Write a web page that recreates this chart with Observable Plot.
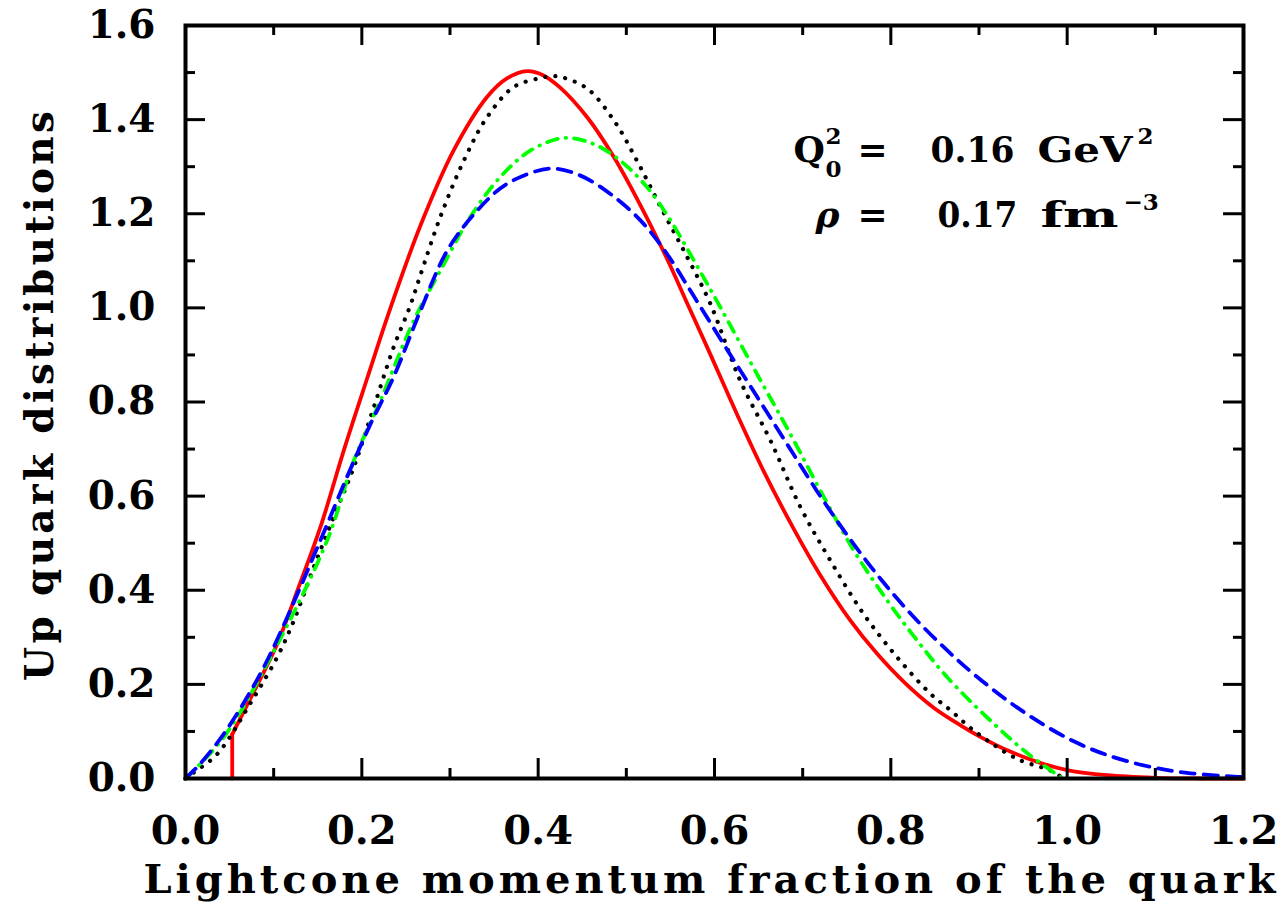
<!DOCTYPE html>
<html>
<head>
<meta charset="utf-8">
<script src="https://cdn.jsdelivr.net/npm/d3@7"></script>
<script src="https://cdn.jsdelivr.net/npm/@observablehq/plot@0.6"></script>
<style>
  html, body { margin: 0; padding: 0; background: #fff; }
  #chart { width: 1286px; height: 905px; }
</style>
</head>
<body>
<div id="chart"></div>
<script>
// ---- data ----
const redX = [0.053, 0.053, 0.075, 0.104, 0.128, 0.153, 0.180, 0.206, 0.2325, 0.2665, 0.304, 0.342, 0.365, 0.3875, 0.405, 0.425, 0.4556, 0.486, 0.516, 0.546, 0.569, 0.592, 0.626, 0.656, 0.690, 0.720, 0.754, 0.7845, 0.815, 0.849, 0.880, 0.902, 0.932, 0.970, 1.0, 1.045, 1.10, 1.15, 1.2];
const redY = [0, 0.094, 0.175, 0.286, 0.405, 0.534, 0.700, 0.850, 1.000, 1.175, 1.334, 1.448, 1.488, 1.503, 1.495, 1.468, 1.405, 1.320, 1.218, 1.105, 1.010, 0.915, 0.772, 0.652, 0.530, 0.432, 0.336, 0.265, 0.205, 0.150, 0.112, 0.088, 0.060, 0.033, 0.018, 0.007, 0.0015, 0, 0];

const blackX = [0, 0.0095, 0.036, 0.0756, 0.104, 0.123, 0.1455, 0.168, 0.191, 0.2136, 0.236, 0.255, 0.2665, 0.289, 0.3157, 0.342, 0.372, 0.399, 0.415, 0.425, 0.4556, 0.486, 0.512, 0.539, 0.569, 0.595, 0.629, 0.6635, 0.6975, 0.7315, 0.769, 0.807, 0.845, 0.868, 0.894, 0.943, 0.981, 0.996];
const blackY = [0, 0.013, 0.052, 0.166, 0.258, 0.336, 0.449, 0.555, 0.662, 0.789, 0.916, 1.005, 1.07, 1.193, 1.313, 1.405, 1.469, 1.487, 1.492, 1.491, 1.466, 1.398, 1.313, 1.214, 1.108, 1.010, 0.846, 0.718, 0.5765, 0.463, 0.350, 0.258, 0.180, 0.1445, 0.102, 0.042, 0.017, 0];

const greenX = [0, 0.0435, 0.1, 0.1607, 0.191, 0.221, 0.259, 0.289, 0.323, 0.357, 0.391, 0.429, 0.463, 0.493, 0.5237, 0.550, 0.5765, 0.607, 0.648, 0.686, 0.720, 0.758, 0.796, 0.830, 0.864, 0.917, 0.958, 0.995];
const greenY = [0, 0.088, 0.27, 0.506, 0.676, 0.803, 0.973, 1.079, 1.193, 1.278, 1.334, 1.361, 1.348, 1.313, 1.256, 1.186, 1.101, 1.000, 0.860, 0.732, 0.612, 0.4845, 0.378, 0.293, 0.215, 0.116, 0.049, 0];

const blueX = [0, 0.017, 0.0435, 0.07, 0.0964, 0.153, 0.183, 0.210, 0.236, 0.2665, 0.297, 0.331, 0.365, 0.414, 0.448, 0.482, 0.516, 0.546, 0.5765, 0.614, 0.648, 0.6825, 0.7165, 0.7505, 0.788, 0.826, 0.864, 0.894, 0.932, 0.970, 1.0075, 1.045, 1.091, 1.136, 1.189, 1.2];
const blueY = [0, 0.032, 0.095, 0.173, 0.265, 0.506, 0.640, 0.754, 0.853, 0.994, 1.122, 1.207, 1.264, 1.296, 1.281, 1.242, 1.186, 1.115, 1.025, 0.912, 0.812, 0.710, 0.610, 0.517, 0.425, 0.343, 0.272, 0.222, 0.166, 0.118, 0.079, 0.050, 0.026, 0.012, 0.004, 0.003];

const xMajor = [0, 0.2, 0.4, 0.6, 0.8, 1.0, 1.2];
const xMinor = [0.1, 0.3, 0.5, 0.7, 0.9, 1.1];
const yMajor = [0, 0.2, 0.4, 0.6, 0.8, 1.0, 1.2, 1.4, 1.6];
const yMinor = [0.1, 0.3, 0.5, 0.7, 0.9, 1.1, 1.3, 1.5];

const xLabel = "Lightcone momentum fraction of the quark";
const yLabel = "Up quark distributions";

// ---- build tables ----
const toRows = (xs, ys) => xs.map((x, i) => ({x, y: ys[i]}));
const red = toRows(redX, redY);
const black = toRows(blackX, blackY);
const green = toRows(greenX, greenY);
const blue = toRows(blueX, blueY);

const W = 1286, H = 905;
const mL = 185, mR = 43, mT = 25, mB = 127;
const innerH = H - mT - mB, innerW = W - mL - mR;
const FONT = "'DejaVu Serif', 'Liberation Serif', serif";
const majorLen = 20, minorLen = 10;
const fmt = d3.format(".1f");

const ann = (t, x, y, fs, extra = {}) =>
  Plot.text([t], {x: () => x, y: () => y, text: d => d, textAnchor: "start", lineAnchor: "bottom", fontSize: fs, fontWeight: "bold", ...extra});

const plot = Plot.plot({
  width: W, height: H,
  marginLeft: mL, marginRight: mR, marginTop: mT, marginBottom: mB,
  style: {fontFamily: FONT, fontWeight: "bold", background: "#fff", color: "#000"},
  x: {domain: [0, 1.2]},
  y: {domain: [0, 1.6]},
  marks: [
    // curves
    Plot.line(red.slice(0, 2), {x: "x", y: "y", stroke: "#ff0000", strokeWidth: 3.8}),
    Plot.line(red.slice(1), {x: "x", y: "y", stroke: "#ff0000", strokeWidth: 3.8, curve: "catmull-rom"}),
    Plot.line(black, {x: "x", y: "y", stroke: "#000", strokeWidth: 4.2, curve: "catmull-rom", strokeDasharray: "0.1,10", strokeLinecap: "round"}),
    Plot.line(green, {x: "x", y: "y", stroke: "#00ff00", strokeWidth: 3.8, curve: "catmull-rom", strokeDasharray: "11,8,0.5,8", strokeLinecap: "round"}),
    Plot.line(blue, {x: "x", y: "y", stroke: "#0000ff", strokeWidth: 3.8, curve: "catmull-rom", strokeDasharray: "14,9"}),
    // inward ticks: bottom and top
    Plot.tickX(xMajor, {x: d => d, stroke: "#000", strokeWidth: 3, insetTop: innerH - majorLen}),
    Plot.tickX(xMinor, {x: d => d, stroke: "#000", strokeWidth: 3, insetTop: innerH - minorLen}),
    Plot.tickX(xMajor, {x: d => d, stroke: "#000", strokeWidth: 3, insetBottom: innerH - majorLen}),
    Plot.tickX(xMinor, {x: d => d, stroke: "#000", strokeWidth: 3, insetBottom: innerH - minorLen}),
    // inward ticks: left and right
    Plot.tickY(yMajor, {y: d => d, stroke: "#000", strokeWidth: 3, insetRight: innerW - majorLen}),
    Plot.tickY(yMinor, {y: d => d, stroke: "#000", strokeWidth: 3, insetRight: innerW - minorLen}),
    Plot.tickY(yMajor, {y: d => d, stroke: "#000", strokeWidth: 3, insetLeft: innerW - majorLen}),
    Plot.tickY(yMinor, {y: d => d, stroke: "#000", strokeWidth: 3, insetLeft: innerW - minorLen}),
    Plot.frame({stroke: "#000", strokeWidth: 4}),
    // tick labels
    Plot.axisX({ticks: xMajor, tickSize: 0, tickPadding: 37, tickFormat: fmt, fontSize: 40, fontWeight: "bold", label: null}),
    Plot.axisY({ticks: yMajor, tickSize: 0, tickPadding: 30, tickFormat: fmt, fontSize: 39, fontWeight: "bold", label: null}),
    // axis titles
    Plot.text([xLabel], {text: d => d, frameAnchor: "bottom", textAnchor: "middle", lineAnchor: "bottom", dy: 114, dx: -5, fontSize: 40, fontWeight: "bold"}),
    Plot.text([yLabel], {text: d => d, frameAnchor: "left", textAnchor: "middle", lineAnchor: "middle", dx: -145, dy: -6, rotate: -90, fontSize: 39, fontWeight: "bold"}),
    // annotation
    ann("Q", 0.6896, 1.311, 36),
    ann("2", 0.7259, 1.349, 23),
    ann("0", 0.7259, 1.279, 23),
    ann("=", 0.7622, 1.311, 36),
    ann("0.16", 0.8450, 1.311, 36),
    ann("GeV", 0.9664, 1.311, 36),
    ann("2", 1.0798, 1.349, 23),
    ann("ρ", 0.7146, 1.171, 36, {fontStyle: "italic"}),
    ann("=", 0.7622, 1.171, 36),
    ann("0.17", 0.8529, 1.171, 36),
    ann("fm", 0.9698, 1.171, 36),
    ann("−3", 1.0639, 1.209, 23)
  ]
});

// stretch texts to the reference's widths (keeps real text)
const fit = (str, len, adjust) => d3.select(plot).selectAll("text")
  .filter(function() { return this.textContent === str; })
  .attr("textLength", len).attr("lengthAdjust", adjust);
fit(xLabel, 1132, "spacing");
fit(yLabel, 570, "spacing");
fit("GeV", 95, "spacingAndGlyphs");
fit("fm", 78, "spacingAndGlyphs");
fit("0.16", 84, "spacingAndGlyphs");
fit("0.17", 80, "spacingAndGlyphs");

document.getElementById("chart").appendChild(plot);
</script>
</body>
</html>
